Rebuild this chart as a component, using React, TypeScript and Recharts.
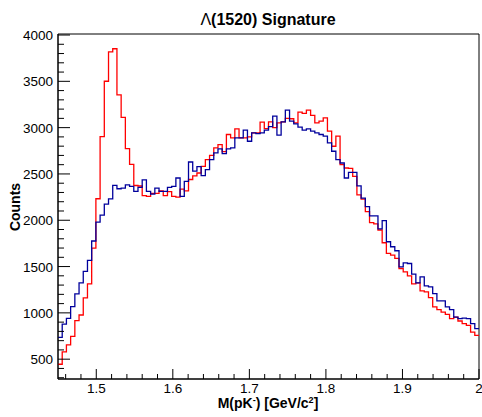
import React from 'react';
import { ComposedChart, Line, XAxis, YAxis, ReferenceArea } from 'recharts';

// histogram binning: 100 bins from 1.45 to 2.0 GeV/c^2
const X_MIN = 1.45;
const X_MAX = 2.0;
const BIN_W = 0.0055;

const redCounts = [
  445, 579, 655, 746, 916, 977, 1161, 1313, 1700, 2232,
  2904, 3501, 3819, 3852, 3353, 3110, 2774, 2604, 2375, 2370,
  2267, 2257, 2290, 2290, 2318, 2267, 2310, 2257, 2250, 2336,
  2318, 2440, 2480, 2510, 2582, 2654, 2700, 2781, 2817, 2740,
  2926, 2890, 2987, 2890, 2890, 2900, 2944, 2944, 3060, 2990,
  3063, 3000, 3052, 3063, 3100, 3096, 3052, 3168, 3154, 3190,
  3132, 3052, 3070, 3106, 2962, 2799, 2908, 2600, 2564, 2560,
  2474, 2275, 2228, 2094, 1975, 1960, 1895, 1757, 1642, 1624,
  1588, 1479, 1443, 1400, 1313, 1324, 1237, 1226, 1165, 1064,
  1035, 1009, 984, 937, 955, 912, 883, 865, 792, 756,
];

const blueCounts = [
  735, 879, 941, 1067, 1205, 1324, 1447, 1566, 1776, 1979,
  2055, 2174, 2230, 2376, 2340, 2347, 2383, 2365, 2311, 2354,
  2437, 2311, 2282, 2347, 2311, 2311, 2354, 2365, 2456, 2257,
  2419, 2629, 2530, 2578, 2481, 2546, 2654, 2727, 2770, 2720,
  2770, 2781, 2890, 2890, 2973, 2853, 2944, 2935, 2944, 2973,
  3010, 3125, 2920, 3063, 3190, 3070, 3041, 3005, 2973, 2987,
  2962, 2944, 2926, 2908, 2835, 2745, 2654, 2618, 2456, 2517,
  2517, 2372, 2238, 2148, 2047, 2047, 1906, 1996, 1768, 1714,
  1671, 1497, 1540, 1533, 1418, 1324, 1389, 1291, 1281, 1208,
  1129, 1129, 1064, 1035, 955, 937, 944, 937, 883, 829,
];

const xTicks = [
  1.46, 1.48, 1.5, 1.52, 1.54, 1.56, 1.58, 1.6, 1.62, 1.64, 1.66, 1.68, 1.7,
  1.72, 1.74, 1.76, 1.78, 1.8, 1.82, 1.84, 1.86, 1.88, 1.9, 1.92, 1.94, 1.96, 1.98, 2.0,
];
const xLabels = [1.5, 1.6, 1.7, 1.8, 1.9, 2.0];

const yTicks = [
  300, 400, 500, 600, 700, 800, 900, 1000, 1100, 1200, 1300, 1400, 1500, 1600, 1700,
  1800, 1900, 2000, 2100, 2200, 2300, 2400, 2500, 2600, 2700, 2800, 2900, 3000,
  3100, 3200, 3300, 3400, 3500, 3600, 3700, 3800, 3900, 4000,
];
const yLabels = [500, 1000, 1500, 2000, 2500, 3000, 3500, 4000];

const Y_MIN = 286;
const Y_MAX = 4011;

const W = 482;
const H = 417;
const FONT = '"Liberation Sans", Arial, Helvetica, sans-serif';

// step data: low edge of every bin plus the upper edge of the last one
const data = Array.from({ length: redCounts.length + 1 }, (_, i) => {
  const k = Math.min(i, redCounts.length - 1);
  return {
    x: +(X_MIN + i * BIN_W).toFixed(4),
    red: redCounts[k],
    blue: blueCounts[k],
  };
});

const isLabel = (list: number[], v: number) => list.some((l) => Math.abs(l - v) < 1e-6);

function XTick(props: any) {
  const { x, y, payload } = props;
  const major = isLabel(xLabels, payload.value);
  return (
    <g>
      <line x1={x} x2={x} y1={y} y2={y - (major ? 10 : 5)} stroke="#000" strokeWidth={1} />
      {major && (
        <text x={x} y={y + 14} textAnchor="middle" fontSize={13.5} fontFamily={FONT} fill="#000">
          {String(+payload.value.toFixed(2))}
        </text>
      )}
    </g>
  );
}

function YTick(props: any) {
  const { x, y, payload } = props;
  const major = isLabel(yLabels, payload.value);
  return (
    <g>
      <line x1={x} x2={x + (major ? 12 : 6)} y1={y} y2={y} stroke="#000" strokeWidth={1} />
      {major && (
        <text x={x - 5} y={y + 5} textAnchor="end" fontSize={13.5} fontFamily={FONT} fill="#000">
          {payload.value}
        </text>
      )}
    </g>
  );
}

export default function App() {
  return (
    // pinned to the window corner so the body margin never adds scrollbars
    <div style={{ position: 'fixed', left: 0, top: 0, width: W, height: H, background: '#fff' }}>
      <ComposedChart
        width={W}
        height={H}
        data={data}
        margin={{ top: 34, right: 3, bottom: 0, left: 0 }}
      >
        <XAxis
          dataKey="x"
          type="number"
          domain={[X_MIN, X_MAX]}
          ticks={xTicks}
          interval={0}
          allowDataOverflow
          tickLine={false}
          tickSize={0}
          tickMargin={0}
          height={38}
          stroke="#000"
          tick={<XTick />}
        />
        <YAxis
          type="number"
          domain={[Y_MIN, Y_MAX]}
          ticks={yTicks}
          interval={0}
          allowDataOverflow
          tickLine={false}
          tickSize={0}
          tickMargin={0}
          width={58}
          stroke="#000"
          tick={<YTick />}
        />
        <ReferenceArea
          x1={X_MIN}
          x2={X_MAX}
          y1={Y_MIN}
          y2={Y_MAX}
          fill="none"
          stroke="#000"
          strokeWidth={1}
          ifOverflow="visible"
        />
        <Line
          type="stepAfter"
          dataKey="red"
          stroke="#ff0000"
          strokeWidth={1.3}
          dot={false}
          isAnimationActive={false}
        />
        <Line
          type="stepAfter"
          dataKey="blue"
          stroke="#00009c"
          strokeWidth={1.3}
          dot={false}
          isAnimationActive={false}
        />
      </ComposedChart>
      <svg
        width={W}
        height={H}
        style={{ position: 'absolute', left: 0, top: 0, pointerEvents: 'none' }}
      >
        <text x={268} y={25} textAnchor="middle" fontSize={16} fontWeight="bold" fontFamily={FONT}>
          <tspan fontWeight="normal">Λ</tspan>
          <tspan>(1520) Signature</tspan>
        </text>
        <text
          x={15}
          y={207}
          transform="rotate(-90 15 207)"
          textAnchor="middle"
          dominantBaseline="central"
          fontSize={14}
          fontWeight="bold"
          fontFamily={FONT}
        >
          Counts
        </text>
        <text x={268} y={408} textAnchor="middle" fontSize={14} fontWeight="bold" fontFamily={FONT}>
          <tspan>M(pK</tspan>
          <tspan dy={-5} fontSize={9}>-</tspan>
          <tspan dy={5}>) [GeV/c</tspan>
          <tspan dy={-5} fontSize={9}>2</tspan>
          <tspan dy={5}>]</tspan>
        </text>
      </svg>
    </div>
  );
}
